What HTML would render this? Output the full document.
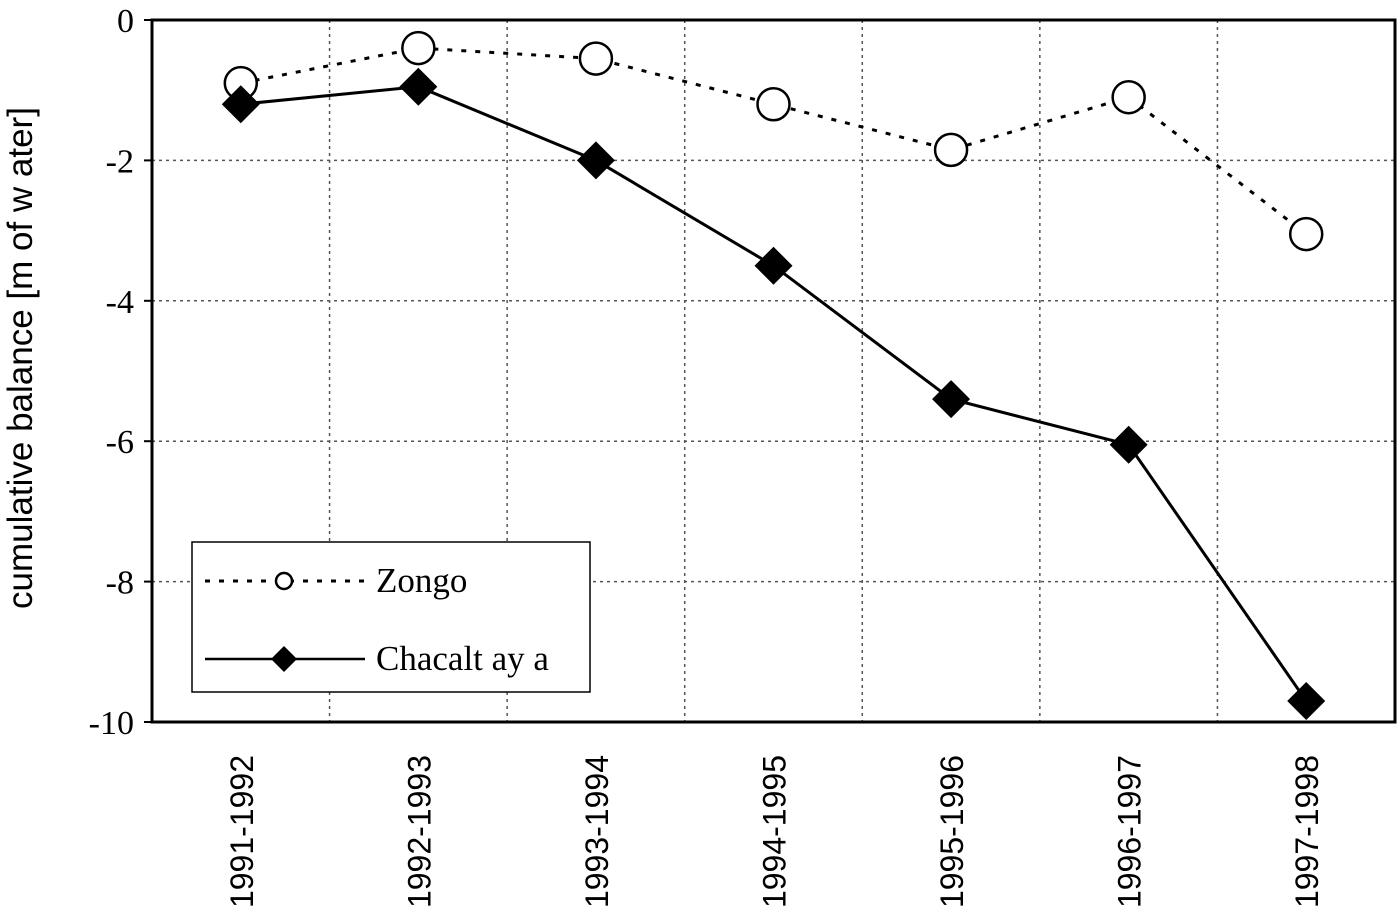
<!DOCTYPE html>
<html><head><meta charset="utf-8"><style>
body{margin:0;background:#fff;}
svg{display:block;}
</style></head><body>
<svg id="chart" width="1400" height="923">
<text x="32" y="358" transform="rotate(-90 32 358)" text-anchor="middle" font-family="Liberation Sans, sans-serif" font-size="35" fill="#000">cumulative balance [m of w ater]</text>
<g id="grid"></g><g id="axes"></g><g id="series"></g>
<g>
<rect x="192" y="542" width="398" height="150" fill="#fff" stroke="#000" stroke-width="1.5"/>
<line x1="205" y1="581" x2="365" y2="581" stroke="#000" stroke-width="3" stroke-dasharray="5,9"/>
<circle cx="284" cy="581" r="8" fill="#fff" stroke="#000" stroke-width="2.5"/>
<text x="376" y="592" font-family="Liberation Serif, serif" font-size="35">Zongo</text>
<line x1="205" y1="659" x2="365" y2="659" stroke="#000" stroke-width="2.5"/>
<path d="M284 646 L297 659 L284 672 L271 659Z" fill="#000"/>
<text x="376" y="670" font-family="Liberation Serif, serif" font-size="35">Chacalt ay a</text>
</g>
</svg>
<script>
const categories=["1991-1992","1992-1993","1993-1994","1994-1995","1995-1996","1996-1997","1997-1998"];
const zongo=[-0.9,-0.4,-0.55,-1.2,-1.85,-1.1,-3.05];
const chacaltaya=[-1.2,-0.95,-2.0,-3.5,-5.4,-6.05,-9.7];
const yTicks=[0,-2,-4,-6,-8,-10];
const L=152,R=1395,T=20,B=722;
const band=(R-L)/categories.length;
const xs=i=>L+band*(i+0.5);
const ys=v=>T+(0-v)/10*(B-T);
const NS="http://www.w3.org/2000/svg";
function mk(tag,attrs,parent){const e=document.createElementNS(NS,tag);for(const k in attrs)e.setAttribute(k,attrs[k]);parent.appendChild(e);return e;}
const grid=document.getElementById('grid'),axes=document.getElementById('axes'),ser=document.getElementById('series');
yTicks.forEach(v=>{
 if(v!==0&&v!==-10){const g=mk('line',{x1:L,x2:R,y1:ys(v),y2:ys(v),stroke:'#555','stroke-width':1.5,'stroke-dasharray':'3,4'},grid);
 
 }
 const tk=mk('line',{x1:L-8,x2:L,y1:ys(v),y2:ys(v),stroke:'#000','stroke-width':2},axes);
 
 
 const t=mk('text',{x:L-18,y:ys(v)+12,'text-anchor':'end','font-family':'Liberation Serif, serif','font-size':34},axes);
 t.textContent=v===0?"0":"-"+Math.abs(v);
 
 
});
for(let i=1;i<categories.length;i++){
 const x=L+band*i;
 const g=mk('line',{x1:x,x2:x,y1:T,y2:B,stroke:'#555','stroke-width':1.5,'stroke-dasharray':'3,4'},grid);
 
 
}
const frame=mk('rect',{x:L,y:T,width:R-L,height:B-T,fill:'none',stroke:'#000','stroke-width':3},axes);


categories.forEach((c,i)=>{
 const x=xs(i);
 const t=mk('text',{x:x,y:755,transform:`rotate(-90 ${x} 755)`,'text-anchor':'end','font-family':'Liberation Sans, sans-serif','font-size':32,dy:12},axes);
 t.textContent=c;
 
 
});
const zl=mk('polyline',{points:zongo.map((v,i)=>xs(i)+','+ys(v)).join(' '),fill:'none',stroke:'#000','stroke-width':3,'stroke-dasharray':'5,9'},ser);


const cl=mk('polyline',{points:chacaltaya.map((v,i)=>xs(i)+','+ys(v)).join(' '),fill:'none',stroke:'#000','stroke-width':3},ser);


zongo.forEach((v,i)=>{
 const c=mk('circle',{cx:xs(i),cy:ys(v),r:16,fill:'#fff',stroke:'#000','stroke-width':2.5},ser);
 
 
});
chacaltaya.forEach((v,i)=>{
 const x=xs(i),y=ys(v);
 const p=mk('path',{d:`M${x} ${y-19} L${x+19} ${y} L${x} ${y+19} L${x-19} ${y}Z`,fill:'#000'},ser);
 
 
});
</script>
</body></html>
